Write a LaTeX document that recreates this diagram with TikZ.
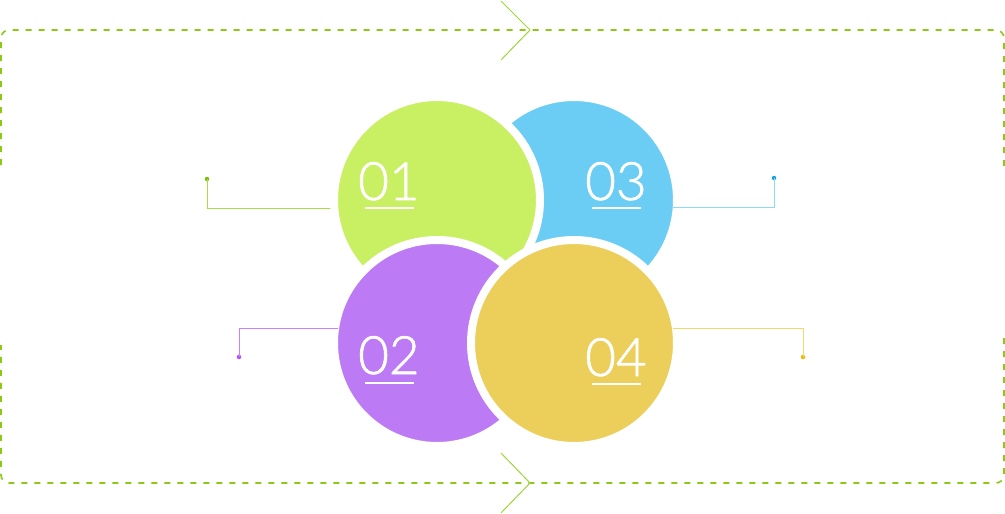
\documentclass[tikz,border=0pt]{standalone}
\usepackage{fontspec}
\newfontfamily\numfont{Lato Light}[FakeBold=1.2]
\definecolor{cgreen}{RGB}{201,240,98}
\definecolor{cblue}{RGB}{107,205,243}
\definecolor{cpurple}{RGB}{188,123,244}
\definecolor{cyellow}{RGB}{236,206,90}
\definecolor{framegreen}{RGB}{140,200,20}
\definecolor{chevgreen}{RGB}{160,214,60}
\definecolor{lgreen}{RGB}{170,220,70}
\definecolor{dgreen}{RGB}{120,190,0}
\definecolor{lblue}{RGB}{140,218,245}
\definecolor{dblue}{RGB}{20,160,225}
\definecolor{lpurple}{RGB}{200,130,255}
\definecolor{dpurple}{RGB}{180,80,250}
\definecolor{lyellow}{RGB}{245,215,110}
\definecolor{dyellow}{RGB}{240,184,0}
\tikzset{
  disc/.style={circle, minimum size=206pt, inner sep=0pt, draw=white, line width=8pt},
  num/.style={text=white, font=\numfont\fontsize{53}{53}\selectfont, inner sep=0pt, anchor=base west},
  uline/.style={white, line width=2pt},
  leader/.style={line width=1pt},
  dotnode/.style={circle, minimum size=4.5pt, inner sep=0pt},
  frame/.style={framegreen, line width=1.6pt, dash pattern=on 6pt off 7pt, rounded corners=8pt},
  chev/.style={chevgreen, line width=1pt}
}
\begin{document}
\begin{tikzpicture}[x=1pt,y=-1pt]
\useasboundingbox (0,0) rectangle (1005,514);
% frame
\draw[frame] (1,165) -- (1,30) -- (1004,30) -- (1004,172);
\draw[frame] (1004,338) -- (1004,483) -- (1,483) -- (1,345);
% chevrons
\draw[chev] (501,1) -- (530,30) -- (501,60);
\draw[chev] (501,453) -- (530,483) -- (501,513);
% leader dots and end coordinates
\node[dotnode, fill=dgreen] (d1) at (207,179) {};
\node[dotnode, fill=dblue] (d3) at (774,178) {};
\node[dotnode, fill=dpurple] (d2) at (239,357) {};
\node[dotnode, fill=dyellow] (d4) at (803,357) {};
\coordinate (e1) at (437,208);
\coordinate (e3) at (673,207);
\coordinate (e2) at (338,328);
\coordinate (e4) at (673,328);
\draw[leader, lgreen] (d1.center) |- (e1);
% discs
\node[disc, fill=cblue] (c3) at (574,200) {};
\node[disc, fill=cgreen] (c1) at (437,200) {};
\node[disc, fill=cpurple] (c2) at (437,343) {};
\node[disc, fill=cyellow] (c4) at (574,343) {};
\draw[leader, lblue] (d3.center) |- (e3);
\draw[leader, lpurple] (d2.center) |- (e2);
\draw[leader, lyellow] (d4.center) |- (e4);
% numbers
\node[num] (t1) at (358,200) {01};
\node[num] (t3) at (585,200) {03};
\node[num] (t2) at (358,374) {02};
\node[num] (t4) at (585,376) {04};
\draw[uline] (365,208) -- (414,208);
\draw[uline] (592,208) -- (641,208);
\draw[uline] (365,383) -- (414,383);
\draw[uline] (592,384) -- (641,384);
\end{tikzpicture}
\end{document}
